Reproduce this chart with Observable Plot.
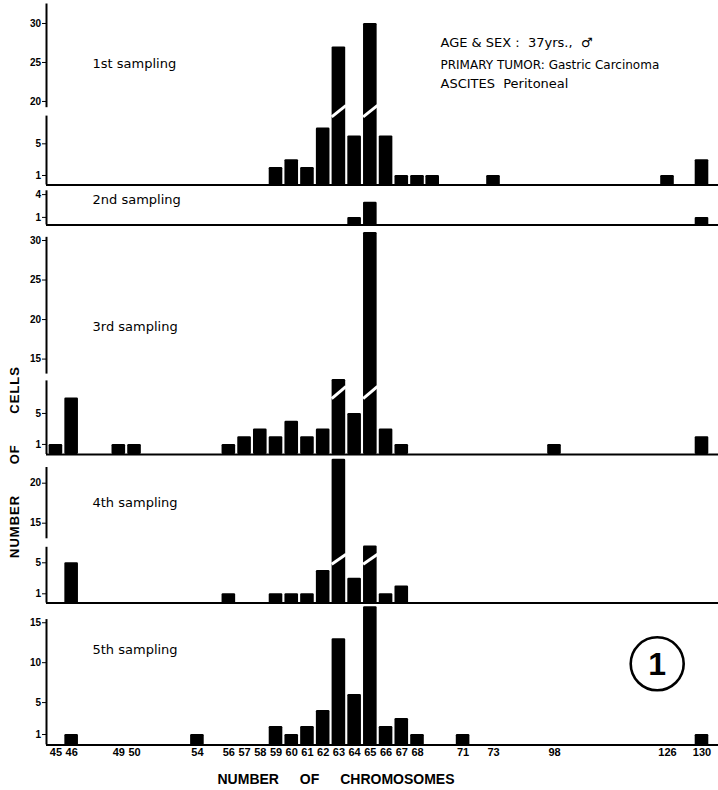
<!DOCTYPE html>
<html>
<head>
<meta charset="utf-8">
<script src="https://cdn.jsdelivr.net/npm/d3@7"></script>
<script src="https://cdn.jsdelivr.net/npm/@observablehq/plot@0.6"></script>
<style>
  body { margin: 0; background: #fff; }
  #chart { position: relative; width: 718px; height: 790px; background: #fff; overflow: hidden; }
  #chart svg { position: absolute; left: 0; }
  .ytitle { position: absolute; left: 14px; top: 462px; transform: translate(-50%, -50%) rotate(-90deg);
            font: bold 13px "Liberation Sans", Arial, sans-serif; letter-spacing: 1px; word-spacing: 26px; white-space: nowrap; color: #000; }
  .xtitle { position: absolute; left: 336px; top: 779px; transform: translate(-50%, -50%);
            font: bold 14px "Liberation Sans", Arial, sans-serif; word-spacing: 17px; white-space: nowrap; color: #000; }
</style>
</head>
<body>
<div id="chart"></div>
<script>
// ---------------- data ----------------
const xTicks = [45, 46, 49, 50, 54, 56, 57, 58, 59, 60, 61, 62, 63, 64, 65, 66, 67, 68, 71, 73, 98, 126, 130];

const chromosomes1 = [59, 60, 61, 62, 63, 64, 65, 66, 67, 68, 69, 73, 126, 130];
const counts1      = [ 2,  3,  2,  7, 27,  6, 30,  6,  1,  1,  1,  1,   1,   3];

const chromosomes2 = [64, 65, 130];
const counts2      = [ 1,  3,   1];

const chromosomes3 = [45, 46, 49, 50, 56, 57, 58, 59, 60, 61, 62, 63, 64, 65, 66, 67, 98, 130];
const counts3      = [ 1,  7,  1,  1,  1,  2,  3,  2,  4,  2,  3, 10,  5, 31,  3,  1,  1,   2];

const chromosomes4 = [46, 56, 59, 60, 61, 62, 63, 64, 65, 66, 67];
const counts4      = [ 5,  1,  1,  1,  1,  4, 23,  3,  8,  1,  2];

const chromosomes5 = [46, 54, 59, 60, 61, 62, 63, 64, 65, 66, 67, 68, 71, 130];
const counts5      = [ 1,  1,  2,  1,  2,  4, 13,  6, 17,  2,  3,  1,  1,   1];

const yTicks1 = [1, 5, 20, 25, 30];
const yTicks2 = [1, 4];
const yTicks3 = [1, 5, 15, 20, 25, 30];
const yTicks4 = [1, 5, 15, 20];
const yTicks5 = [1, 5, 10, 15];

const samplingLabels = ["1st sampling", "2nd sampling", "3rd sampling", "4th sampling", "5th sampling"];
const infoLines = ["AGE & SEX :  37yrs.,  \u2642", "PRIMARY TUMOR: Gastric Carcinoma", "ASCITES  Peritoneal"];
const figureNumber = "1";
const xTitle = "NUMBER OF CHROMOSOMES";
const yTitle = "NUMBER OF CELLS";

// ---------------- layout / scales ----------------
const W = 718;
const X_DOMAIN = [44.4, 68, 73, 98, 126, 130, 131.08];
const X_RANGE  = [46, 417, 493, 554, 667, 701.5, 718];
const BAR_HALF = 6.8;

const panels = [
  {chrom: chromosomes1, counts: counts1, label: samplingLabels[0], ticks: yTicks1, top: 0, height: 188,
   yDomain: [-0.2, 8.5, 19.2, 32.5], yRange: [184.5, 115.6, 107.2, 3.5],
   axis: [[-0.2, 8.5], [19.2, 32.5]], slash: [8.4, 19.5], labelY: 63},
  {chrom: chromosomes2, counts: counts2, label: samplingLabels[1], ticks: yTicks2, top: 188, height: 42,
   yDomain: [0, 4.5], yRange: [224.5, 190.3],
   axis: [[0, 4.5]], slash: null, labelY: 199},
  {chrom: chromosomes3, counts: counts3, label: samplingLabels[2], ticks: yTicks3, top: 230, height: 228,
   yDomain: [-0.3, 9.2, 13.1, 31], yRange: [454, 380.4, 373.6, 232.1],
   axis: [[-0.3, 9.2], [13.1, 30.4]], slash: [6.9, 8.5], labelY: 326},
  {chrom: chromosomes4, counts: counts4, label: samplingLabels[3], ticks: yTicks4, top: 458, height: 148,
   yDomain: [-0.2, 7.0, 13.05, 23], yRange: [602.6, 546.8, 538.3, 458.7],
   axis: [[-0.2, 7.0], [13.05, 21.96]], slash: [4.8, 6.1], labelY: 502.5},
  {chrom: chromosomes5, counts: counts5, label: samplingLabels[4], ticks: yTicks5, top: 606, height: 184,
   yDomain: [-0.3, 17], yRange: [744.4, 606.3],
   axis: [[-0.3, 15.4]], slash: null, labelY: 649, xAxis: true}
];

const chart = document.getElementById("chart");

panels.forEach((p, pi) => {
  const base = p.yDomain[0];
  const baseY = p.yRange[0] - p.top;
  const data = p.chrom.map((c, i) => ({c, n: p.counts[i]}));
  const breakLow = p.axis.length > 1 ? p.axis[0][1] : Infinity;

  const marks = [
    // horizontal baseline
    Plot.ruleY([base], {strokeWidth: 2, stroke: "black"}),
    // broken vertical axis line
    Plot.ruleX(p.axis, {x: () => X_DOMAIN[0], y1: d => d[0], y2: d => d[1], strokeWidth: 2, stroke: "black"}),
    // bars
    Plot.rect(data, {x1: "c", x2: "c", y1: () => base, y2: "n",
      insetLeft: -BAR_HALF, insetRight: -BAR_HALF, fill: "black", rx: 1.2})
  ];
  if (p.slash) {
    marks.push(Plot.link(data.filter(d => d.n > breakLow), {
      x1: d => d.c - 0.46, x2: d => d.c + 0.46,
      y1: () => p.slash[0], y2: () => p.slash[1],
      stroke: "white", strokeWidth: 3
    }));
  }
  marks.push(Plot.text([p.label], {
    frameAnchor: "top-left", dx: 46, dy: p.labelY - p.top,
    textAnchor: "start", lineAnchor: "middle",
    fontFamily: "DejaVu Sans", fontSize: 13, fontWeight: "normal", fill: "black"
  }));

  if (pi === 0) {
    const infoY = [42.7, 64.5, 83];
    const infoSize = [13, 12, 13];
    const infoSpacing = [1.2, 0, 1];
    infoLines.forEach((line, i) => {
      marks.push(Plot.text([line], {
        frameAnchor: "top-left", dx: 394, dy: infoY[i],
        textAnchor: "start", lineAnchor: "middle",
        fontFamily: "DejaVu Sans", fontSize: infoSize[i], fontWeight: "normal",
        fill: "black", letterSpacing: infoSpacing[i]
      }));
    });
  }
  if (p.xAxis) {
    marks.push(Plot.dot([figureNumber], {
      frameAnchor: "top-left", dx: 610.7, dy: 57.3, r: 26.5,
      stroke: "black", strokeWidth: 2.6, fill: "none"
    }));
    marks.push(Plot.text([figureNumber], {
      frameAnchor: "top-left", dx: 610.7, dy: 58,
      textAnchor: "middle", lineAnchor: "middle",
      fontFamily: "Liberation Sans", fontSize: 32, fontWeight: "bold", fill: "black"
    }));
  }

  const svg = Plot.plot({
    width: W,
    height: p.height,
    marginLeft: 46,
    marginRight: 0,
    marginTop: 0,
    marginBottom: p.height - baseY,
    x: p.xAxis
      ? {type: "linear", domain: X_DOMAIN, range: X_RANGE, ticks: xTicks, tickSize: 0, tickPadding: 3,
         tickFormat: d => String(d), label: null}
      : {type: "linear", domain: X_DOMAIN, range: X_RANGE, axis: null},
    y: {type: "linear", domain: p.yDomain, range: p.yRange.map(v => v - p.top),
        ticks: p.ticks, tickSize: 4, tickPadding: 1.5, tickFormat: d => String(d), label: null},
    style: {background: "transparent", overflow: "visible", color: "black",
            fontFamily: "Liberation Sans, Arial, sans-serif", fontSize: "10px", fontWeight: "bold"},
    marks
  });
  svg.style.top = p.top + "px";
  if (p.xAxis) {
    d3.select(svg).selectAll('g[aria-label^="x-axis"]').attr("font-size", 11)
      .selectAll("text").attr("font-size", 11);
  }
  chart.appendChild(svg);
});

const yt = document.createElement("div");
yt.className = "ytitle";
yt.textContent = yTitle;
chart.appendChild(yt);

const xt = document.createElement("div");
xt.className = "xtitle";
xt.textContent = xTitle;
chart.appendChild(xt);
</script>
</body>
</html>
